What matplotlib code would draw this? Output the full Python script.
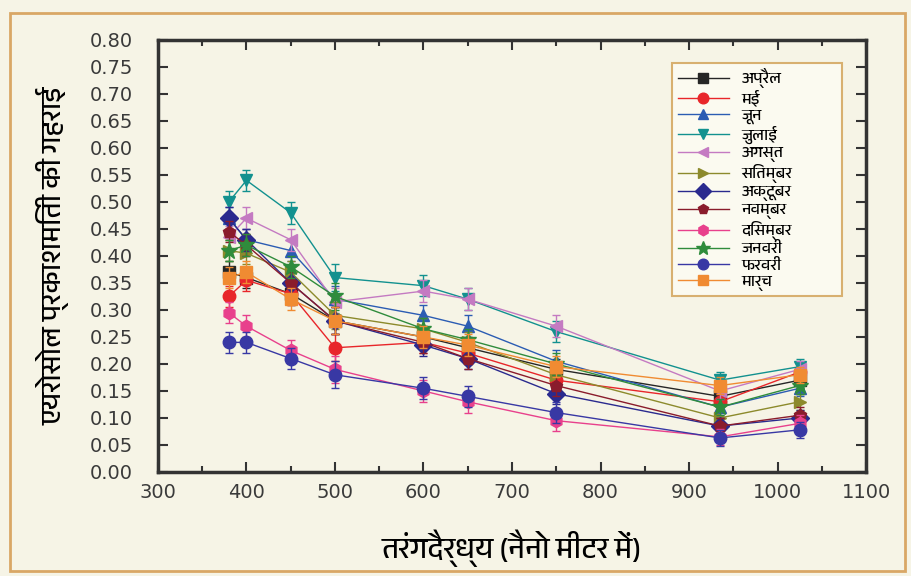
import numpy as np
import matplotlib
matplotlib.use("Agg")
import matplotlib.pyplot as plt
from matplotlib import font_manager as fm
from matplotlib.ft2font import FT2Font
from matplotlib.patches import Rectangle


# ---- data ----
wl = [380, 400, 450, 500, 600, 650, 750, 935, 1025]

months = ["अप्रैल", "मई", "जून", "जुलाई", "अगस्त", "सितम्बर",
          "अक्टूबर", "नवम्बर", "दिसम्बर", "जनवरी", "फरवरी", "मार्च"]

apr = [0.37, 0.36, 0.33, 0.28, 0.25, 0.23, 0.19, 0.14, 0.17]
may = [0.325, 0.355, 0.33, 0.23, 0.24, 0.22, 0.17, 0.13, 0.185]
jun = [0.47, 0.43, 0.41, 0.32, 0.29, 0.27, 0.205, 0.12, 0.155]
jul = [0.50, 0.54, 0.48, 0.36, 0.345, 0.32, 0.26, 0.17, 0.195]
aug = [0.435, 0.47, 0.43, 0.315, 0.335, 0.32, 0.27, 0.15, 0.19]
sep = [0.41, 0.405, 0.37, 0.29, 0.265, 0.24, 0.18, 0.10, 0.13]
octo = [0.47, 0.43, 0.35, 0.28, 0.235, 0.21, 0.145, 0.085, 0.10]
nov = [0.445, 0.42, 0.35, 0.28, 0.24, 0.21, 0.16, 0.085, 0.105]
dec = [0.295, 0.27, 0.225, 0.19, 0.15, 0.13, 0.095, 0.065, 0.09]
jan = [0.41, 0.42, 0.38, 0.325, 0.265, 0.245, 0.20, 0.12, 0.16]
feb = [0.24, 0.24, 0.21, 0.18, 0.155, 0.14, 0.11, 0.063, 0.078]
mar = [0.36, 0.37, 0.32, 0.28, 0.25, 0.235, 0.195, 0.16, 0.18]

err = [0.02, 0.02, 0.02, 0.025, 0.02, 0.02, 0.02, 0.015, 0.015]

series = [apr, may, jun, jul, aug, sep, octo, nov, dec, jan, feb, mar]
colors = ["#262626", "#e8262a", "#2b5cb3", "#12918f", "#c47ac2", "#8c8a2c",
          "#2a2a8e", "#8a1c2c", "#e8408c", "#2f8c3c", "#3838a4", "#f08b32"]
markers = ["s", "o", "^", "v", "<", ">", "D", "p", "h", "*", "o", "s"]


# find a font that has Devanagari glyphs
def find_deva():
    names = []
    for f in fm.fontManager.ttflist:
        try:
            if 0x0915 in FT2Font(f.fname).get_charmap():
                names.append(f.name)
        except Exception:
            pass
    names.sort(key=lambda n: ("Devanagari" not in n, n))
    return names[0] if names else None


deva = find_deva()
deva_fam = [deva, "DejaVu Sans"] if deva else ["DejaVu Sans"]

bg = "#f6f4e6"
fig = plt.figure(figsize=(9.12, 5.76), dpi=100, facecolor=bg)
fig.patches.append(Rectangle((0.011, 0.008), 0.981, 0.97, transform=fig.transFigure,
                             fill=False, edgecolor="#d9a766", linewidth=2))
ax = fig.add_axes([0.1732, 0.1806, 0.7764, 0.75])
ax.set_facecolor(bg)

for name, ys, c, m in zip(months, series, colors, markers):
    ms = 12 if m == "*" else 9
    ax.errorbar(wl, ys, yerr=err, color=c, fmt="none", elinewidth=1,
                capsize=3, capthick=1)
    ax.plot(wl, ys, color=c, marker=m, markersize=ms, linewidth=1,
            markeredgecolor=c, label=name)

ax.set_xlim(300, 1100)
ax.set_ylim(0, 0.8)
ax.set_xticks(np.arange(300, 1101, 100))
ax.set_xticks(np.arange(350, 1100, 100), minor=True)
ax.set_yticks(np.arange(0, 0.801, 0.05))
ax.set_yticklabels(["%.2f" % v for v in np.arange(0, 0.801, 0.05)])
ax.tick_params(which="both", direction="in", top=True, right=True, width=1.5,
               colors="#333333", labelcolor="#3a3a3a", labelsize=14)
ax.tick_params(which="major", length=7)
ax.tick_params(which="minor", length=4)
ax.tick_params(axis="y", pad=18)
ax.tick_params(axis="x", pad=8)
for s in ax.spines.values():
    s.set_linewidth(2.5)
    s.set_color("#333333")

ax.set_xlabel("तरंगदैर्ध्य (नैनो मीटर में)", family=deva_fam, fontsize=21,
              fontweight="bold", labelpad=20)
ax.set_ylabel("एयरोसोल प्रकाशमिती की गहराई", family=deva_fam, fontsize=20,
              fontweight="bold", labelpad=14)

leg = ax.legend(loc="upper left", bbox_to_anchor=(0.726, 0.405, 0.240, 0.542),
                mode="expand", handlelength=3.2, labelspacing=0.12,
                borderpad=0.35, borderaxespad=0, fancybox=False,
                edgecolor="#d8b070", facecolor="#fbfaf0", framealpha=1,
                markerscale=0.85, prop={"family": deva_fam, "size": 11.5})
leg.get_frame().set_linewidth(1.5)

fig.savefig("out.png", dpi=100, facecolor=bg)
